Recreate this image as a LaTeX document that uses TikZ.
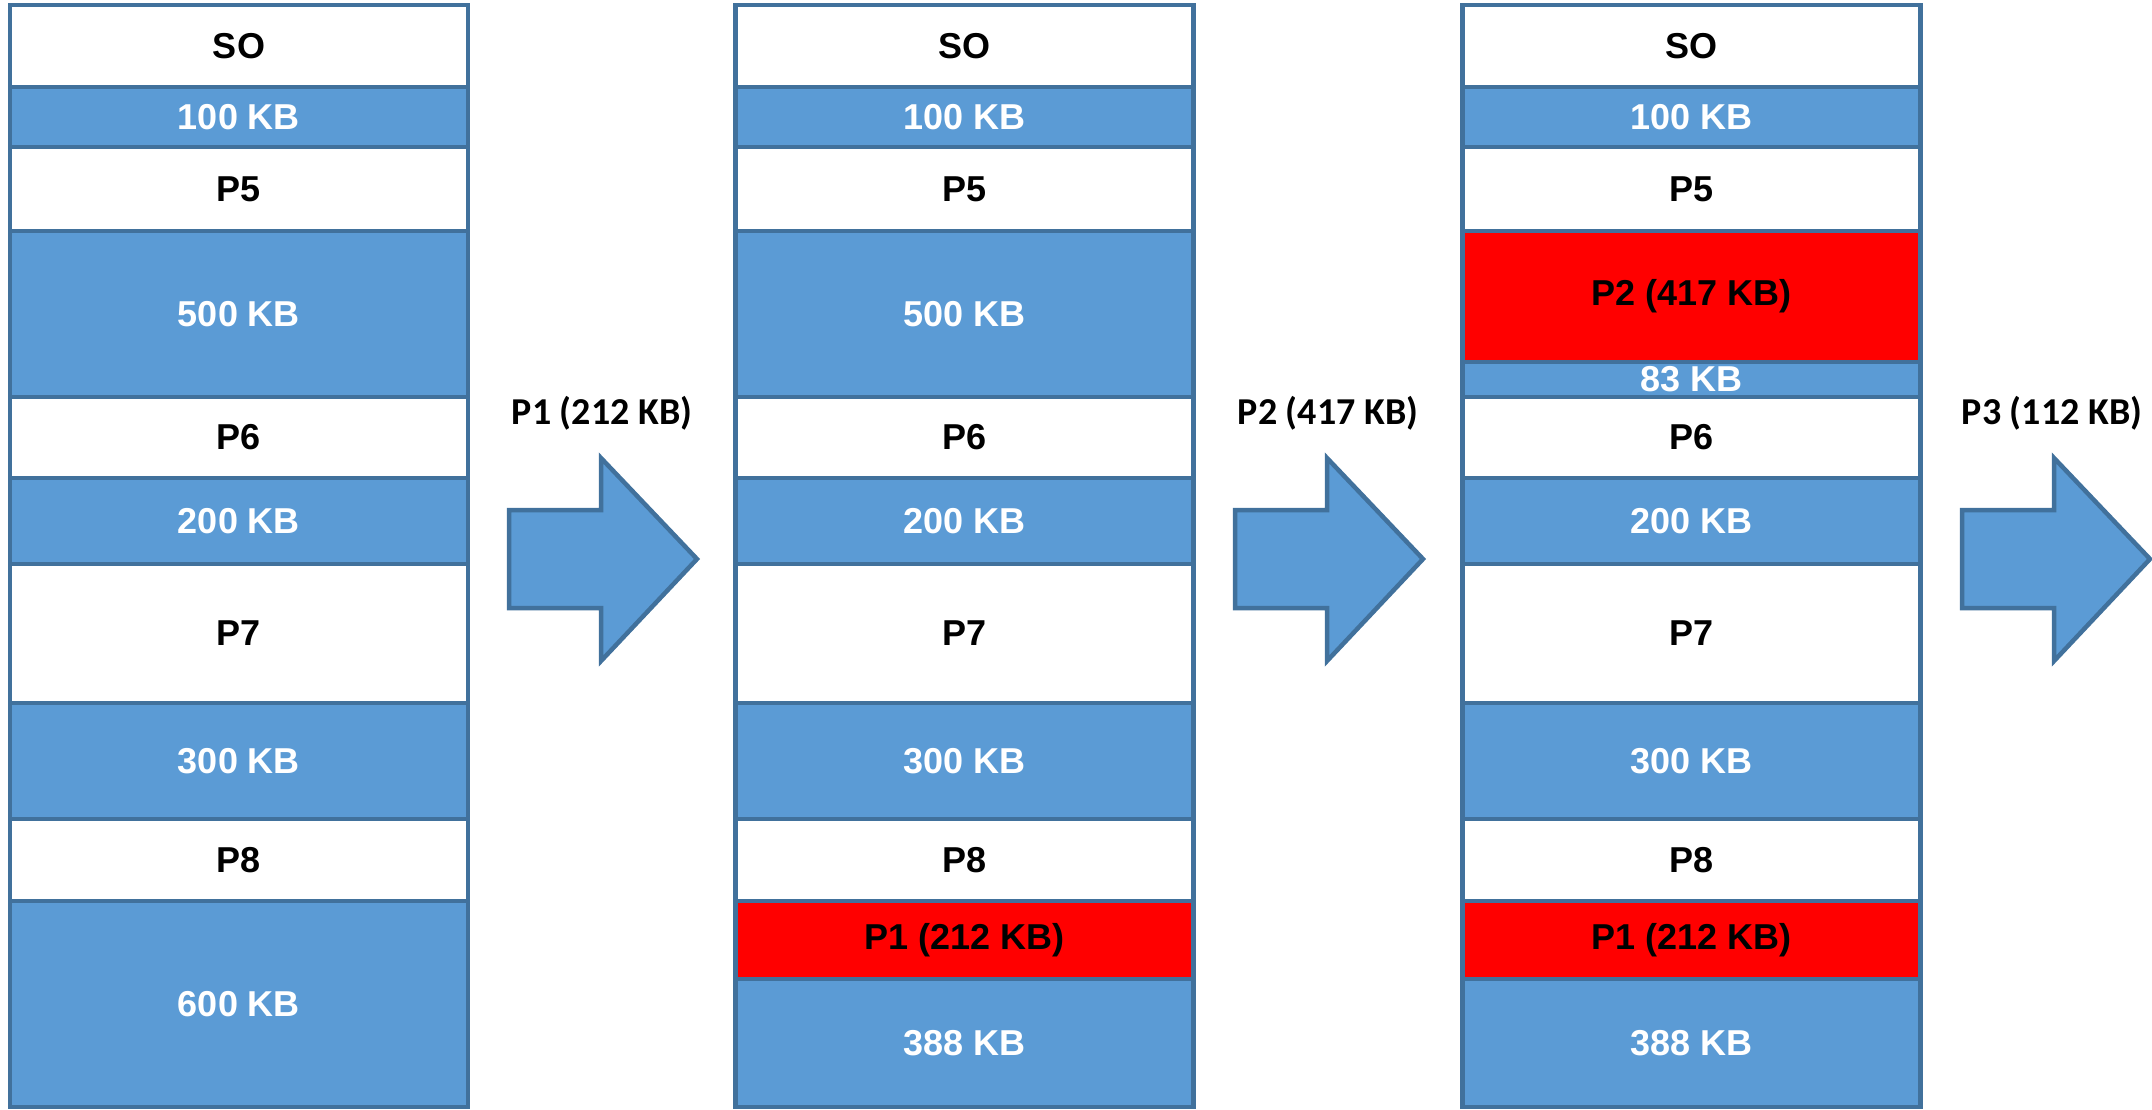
\documentclass[tikz,border=0pt]{standalone}
\usepackage{fontspec}
\setmainfont{Liberation Sans}
\newfontfamily\lblfont{Carlito}
\definecolor{memblue}{HTML}{5B9BD5}
\definecolor{memedge}{HTML}{41719C}
\tikzset{
 seg/.style={draw=memedge, line width=4.5pt, minimum width=458pt, inner sep=0pt, font=\bfseries\fontsize{36}{40}\selectfont},
 freeseg/.style={seg, fill=memblue, text=white},
 procseg/.style={seg, fill=white, text=black},
 newseg/.style={seg, fill=red, text=black},
 bigarrow/.style={draw=memedge, fill=memblue, line width=4.5pt, line join=miter},
 arrlabel/.style={font=\lblfont\bfseries\fontsize{38}{44}\selectfont, inner sep=0pt}
}
\newcommand\memseg[6]{\node[#5, minimum height={(#4-#3)*1pt}] (#1) at (#2, {(#3+#4)/2}) {#6};}
\newcommand\blockarrow[1]{\draw[bigarrow, xshift=#1pt] (509,510) -- (601,510) -- (601,458) -- (697,559) -- (601,661) -- (601,608) -- (509,608) -- cycle;}
\begin{document}
\begin{tikzpicture}[x=1pt, y=-1pt]
\useasboundingbox (0,0) rectangle (2152,1109);
% column 1
\memseg{aso}{239}{5}{87}{procseg}{SO}
\memseg{af1}{239}{87}{147}{freeseg}{100 KB}
\memseg{ap5}{239}{147}{231}{procseg}{P5}
\memseg{af2}{239}{231}{397}{freeseg}{500 KB}
\memseg{ap6}{239}{397}{478}{procseg}{P6}
\memseg{af3}{239}{478}{564}{freeseg}{200 KB}
\memseg{ap7}{239}{564}{703}{procseg}{P7}
\memseg{af4}{239}{703}{819}{freeseg}{300 KB}
\memseg{ap8}{239}{819}{901}{procseg}{P8}
\memseg{af5}{239}{901}{1107}{freeseg}{600 KB}
% column 2
\memseg{bso}{964.5}{5}{87}{procseg}{SO}
\memseg{bf1}{964.5}{87}{147}{freeseg}{100 KB}
\memseg{bp5}{964.5}{147}{231}{procseg}{P5}
\memseg{bf2}{964.5}{231}{397}{freeseg}{500 KB}
\memseg{bp6}{964.5}{397}{478}{procseg}{P6}
\memseg{bf3}{964.5}{478}{564}{freeseg}{200 KB}
\memseg{bp7}{964.5}{564}{703}{procseg}{P7}
\memseg{bf4}{964.5}{703}{819}{freeseg}{300 KB}
\memseg{bp8}{964.5}{819}{901}{procseg}{P8}
\memseg{bp1}{964.5}{901}{979}{newseg}{P1 (212 KB)}
\memseg{bf5}{964.5}{979}{1107}{freeseg}{388 KB}
% column 3
\memseg{cso}{1691.5}{5}{87}{procseg}{SO}
\memseg{cf1}{1691.5}{87}{147}{freeseg}{100 KB}
\memseg{cp5}{1691.5}{147}{231}{procseg}{P5}
\memseg{cp2}{1691.5}{231}{362}{newseg}{P2 (417 KB)}
\memseg{cf2}{1691.5}{362}{397}{freeseg}{83 KB}
\memseg{cp6}{1691.5}{397}{478}{procseg}{P6}
\memseg{cf3}{1691.5}{478}{564}{freeseg}{200 KB}
\memseg{cp7}{1691.5}{564}{703}{procseg}{P7}
\memseg{cf4}{1691.5}{703}{819}{freeseg}{300 KB}
\memseg{cp8}{1691.5}{819}{901}{procseg}{P8}
\memseg{cp1}{1691.5}{901}{979}{newseg}{P1 (212 KB)}
\memseg{cf5}{1691.5}{979}{1107}{freeseg}{388 KB}
% arrows
\blockarrow{0}
\blockarrow{726}
\blockarrow{1453}
\node[arrlabel] (l1) at (602,413) {P1 (212 KB)};
\node[arrlabel] (l2) at (1328,413) {P2 (417 KB)};
\node[arrlabel] (l3) at (2052,413) {P3 (112 KB)};
\end{tikzpicture}
\end{document}
